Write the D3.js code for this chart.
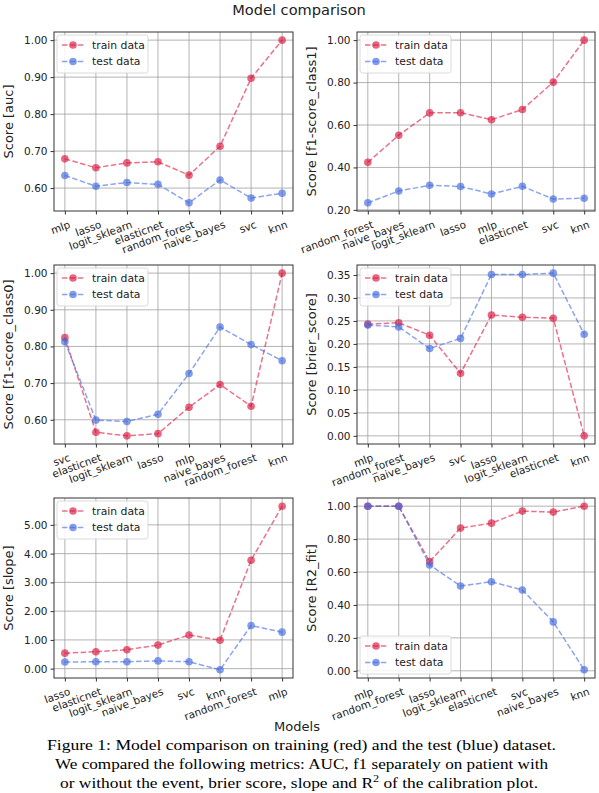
<!DOCTYPE html>
<html><head><meta charset="utf-8">
<script src="https://cdn.jsdelivr.net/npm/d3@7"></script>
<style>
html,body{margin:0;padding:0;background:#fff;}
svg{display:block;}
</style></head>
<body>
<svg id="chart" width="599" height="793"></svg>
<script>
// ---------- data ----------
const aucModels = ["mlp","lasso","logit_sklearn","elasticnet","random_forest","naive_bayes","svc","knn"];
const aucTrain = [0.679,0.655,0.668,0.671,0.635,0.713,0.897,1.0];
const aucTest = [0.634,0.605,0.615,0.610,0.560,0.622,0.573,0.586];
const aucTicks = [0.6,0.7,0.8,0.9,1.0];

const f1c1Models = ["random_forest","naive_bayes","logit_sklearn","lasso","mlp","elasticnet","svc","knn"];
const f1c1Train = [0.424,0.552,0.657,0.658,0.625,0.673,0.802,1.0];
const f1c1Test = [0.233,0.289,0.316,0.310,0.275,0.311,0.251,0.255];
const f1c1Ticks = [0.2,0.4,0.6,0.8,1.0];

const f1c0Models = ["svc","elasticnet","logit_sklearn","lasso","mlp","naive_bayes","random_forest","knn"];
const f1c0Train = [0.824,0.566,0.556,0.562,0.634,0.696,0.637,1.0];
const f1c0Test = [0.813,0.599,0.595,0.615,0.726,0.853,0.805,0.761];
const f1c0Ticks = [0.6,0.7,0.8,0.9,1.0];

const brierModels = ["mlp","random_forest","naive_bayes","svc","lasso","logit_sklearn","elasticnet","knn"];
const brierTrain = [0.243,0.246,0.219,0.136,0.263,0.258,0.256,0.0];
const brierTest = [0.241,0.237,0.190,0.212,0.351,0.351,0.354,0.221];
const brierTicks = [0,0.05,0.10,0.15,0.20,0.25,0.30,0.35];

const slopeModels = ["lasso","elasticnet","logit_sklearn","naive_bayes","svc","knn","random_forest","mlp"];
const slopeTrain = [0.54,0.59,0.66,0.82,1.17,0.99,3.77,5.65];
const slopeTest = [0.23,0.24,0.24,0.27,0.24,-0.04,1.50,1.27];
const slopeTicks = [0,1,2,3,4,5];

const r2Models = ["mlp","random_forest","lasso","logit_sklearn","elasticnet","svc","naive_bayes","knn"];
const r2Train = [1.0,1.0,0.663,0.867,0.897,0.970,0.964,1.0];
const r2Test = [1.0,1.0,0.643,0.515,0.541,0.491,0.297,0.006];
const r2Ticks = [0,0.2,0.4,0.6,0.8,1.0];

const seriesNames = ["train data","test data"];
const titleText = "Model comparison";
const xAxisLabel = "Models";
const captionLines = [
  "Figure 1: Model comparison on training (red) and the test (blue) dataset.",
  "We compared the following metrics: AUC, f1 separately on patient with",
  "or without the event, brier score, slope and R"
];

// ---------- layout ----------
const svg = d3.select("#chart");
const colors = ["#dc143c","#4169e1"];
const cols = [[54,293],[357,595]];
const rows = [[32,211],[265,444],[498,678]];
const sans = "DejaVu Sans, sans-serif";

const panels = [
  {models:aucModels, train:aucTrain, test:aucTest, ticks:aucTicks, label:"Score [auc]", c:0, r:0, legend:"top"},
  {models:f1c1Models, train:f1c1Train, test:f1c1Test, ticks:f1c1Ticks, label:"Score [f1-score_class1]", c:1, r:0, legend:"top"},
  {models:f1c0Models, train:f1c0Train, test:f1c0Test, ticks:f1c0Ticks, label:"Score [f1-score_class0]", c:0, r:1, legend:"top"},
  {models:brierModels, train:brierTrain, test:brierTest, ticks:brierTicks, label:"Score [brier_score]", c:1, r:1, legend:"top"},
  {models:slopeModels, train:slopeTrain, test:slopeTest, ticks:slopeTicks, label:"Score [slope]", c:0, r:2, legend:"top"},
  {models:r2Models, train:r2Train, test:r2Test, ticks:r2Ticks, label:"Score [R2_fit]", c:1, r:2, legend:"bottom"}
];

svg.append("text").attr("x",299).attr("y",15).attr("text-anchor","middle")
  .attr("font-family",sans).attr("font-size",14.6).attr("fill","#222").text(titleText);

panels.forEach(p => {
  const [x0,x1] = cols[p.c], [y0,y1] = rows[p.r];
  const all = p.train.concat(p.test);
  const mn = d3.min(all), mx = d3.max(all), pad = (mx-mn)*0.05;
  const x = d3.scalePoint().domain(p.models).range([x0,x1]).padding(0.35);
  const y = d3.scaleLinear().domain([mn-pad, mx+pad]).range([y1,y0]);
  const g = svg.append("g");

  // grid
  g.selectAll(".gx").data(p.models).enter().append("line")
    .attr("x1",d=>x(d)).attr("x2",d=>x(d)).attr("y1",y0).attr("y2",y1)
    .attr("stroke","#a0a0a0").attr("stroke-width",0.8);
  g.selectAll(".gy").data(p.ticks).enter().append("line")
    .attr("x1",x0).attr("x2",x1).attr("y1",d=>y(d)).attr("y2",d=>y(d))
    .attr("stroke","#a0a0a0").attr("stroke-width",0.8);

  // axes
  const ya = g.append("g").attr("transform",`translate(${x0},0)`)
    .call(d3.axisLeft(y).tickValues(p.ticks).tickFormat(d3.format(".2f")).tickSizeOuter(0).tickSize(3.5).tickPadding(3));
  ya.select(".domain").remove();
  ya.selectAll("text").attr("font-family",sans).attr("font-size",10.5).attr("fill","#222");
  ya.selectAll("line").attr("stroke","#333");

  const xa = g.append("g").attr("transform",`translate(0,${y1})`)
    .call(d3.axisBottom(x).tickSizeOuter(0).tickSize(3.5));
  xa.select(".domain").remove();
  xa.selectAll("line").attr("stroke","#333");
  xa.selectAll("text")
    .attr("font-family",sans).attr("font-size",10.5).attr("fill","#222")
    .attr("text-anchor","end").attr("y",0).attr("dy","0.75em")
    .attr("transform","translate(3,9) rotate(-20)");

  // frame
  g.append("rect").attr("x",x0).attr("y",y0).attr("width",x1-x0).attr("height",y1-y0)
    .attr("fill","none").attr("stroke","#333").attr("stroke-width",1);

  // y label
  g.append("text").attr("transform",`translate(${x0-41},${(y0+y1)/2}) rotate(-90)`)
    .attr("text-anchor","middle").attr("font-family",sans).attr("font-size",13).attr("fill","#222")
    .text(p.label);

  // series
  [p.train,p.test].forEach((vals,i) => {
    const pts = p.models.map((m,k)=>[x(m), y(vals[k])]);
    g.append("path").attr("d",d3.line()(pts)).attr("fill","none")
      .attr("stroke",colors[i]).attr("stroke-opacity",0.6).attr("stroke-width",1.5)
      .attr("stroke-dasharray","5.5,2.4");
    g.selectAll(null).data(pts).enter().append("circle")
      .attr("cx",d=>d[0]).attr("cy",d=>d[1]).attr("r",3.8)
      .attr("fill",colors[i]).attr("fill-opacity",0.65);
  });

  // legend
  const lw = 91, lh = 38;
  const lx = x0+3, ly = p.legend==="top" ? y0+3 : y1-lh-4;
  const lg = g.append("g").attr("transform",`translate(${lx},${ly})`);
  lg.append("rect").attr("width",lw).attr("height",lh).attr("rx",2.5)
    .attr("fill","#fff").attr("fill-opacity",0.85).attr("stroke","#d0d0d0").attr("stroke-width",0.8);
  seriesNames.forEach((s,i)=>{
    const cy = 10 + i*16.5;
    lg.append("line").attr("x1",5).attr("x2",27).attr("y1",cy).attr("y2",cy)
      .attr("stroke",colors[i]).attr("stroke-opacity",0.6).attr("stroke-width",1.5).attr("stroke-dasharray","5.5,2.4");
    lg.append("circle").attr("cx",16).attr("cy",cy).attr("r",3.8).attr("fill",colors[i]).attr("fill-opacity",0.65);
    lg.append("text").attr("x",35).attr("y",cy).attr("dy","0.35em")
      .attr("font-family",sans).attr("font-size",10.8).attr("fill","#222").text(s);
  });
});

// x label
svg.append("text").attr("x",297).attr("y",731).attr("text-anchor","middle")
  .attr("font-family",sans).attr("font-size",13).attr("fill","#222").text(xAxisLabel);

// caption
const serif = "Liberation Serif, Times New Roman, serif";
const capSpecs = [[47,556,750],[55,548,769],[60,538,788]];
captionLines.forEach((t,i)=>{
  const [cx0,cx1,cy] = capSpecs[i];
  const tx = svg.append("text").attr("x",cx0).attr("y",cy)
    .attr("font-family",serif).attr("font-size",15).attr("fill","#000");
  tx.attr("textLength",cx1-cx0).attr("lengthAdjust","spacingAndGlyphs");
  if(i<2){
    tx.text(t);
  } else {
    tx.append("tspan").text(t);
    tx.append("tspan").attr("dy",-6).attr("font-size",10.5).text("2");
    tx.append("tspan").attr("dy",6).text(" of the calibration plot.");
  }
});
</script>
</body></html>
